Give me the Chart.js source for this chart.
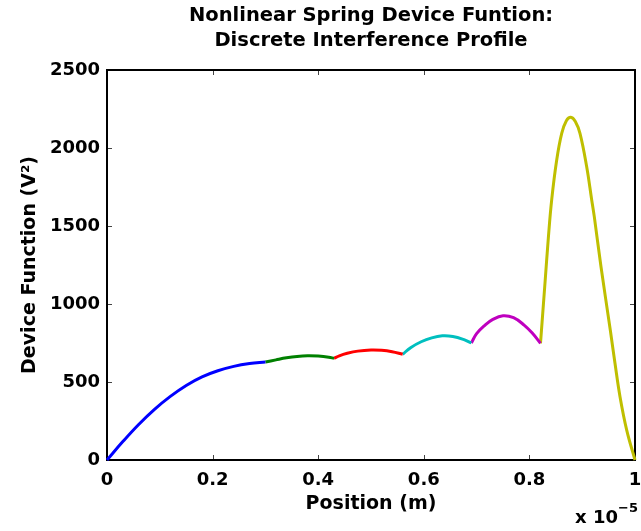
<!DOCTYPE html>
<html>
<head>
<meta charset="utf-8">
<title>Nonlinear Spring Device Funtion</title>
<script src="https://cdn.jsdelivr.net/npm/chart.js@4/dist/chart.umd.min.js"></script>
<style>
  html, body { margin: 0; padding: 0; background: #fff; }
  #wrap { width: 641px; height: 531px; }
</style>
</head>
<body>
<div id="wrap"><canvas id="chart" width="641" height="531"></canvas></div>
<script>
// position in units of 1e-5 m, device function in V^2
const blueX = [0, 0.03, 0.06, 0.09, 0.12, 0.15, 0.18, 0.21, 0.24, 0.27, 0.30];
const blueY = [0, 118, 228, 325, 408, 478, 533, 572, 600, 618, 628];
const greenX = [0.30, 0.32, 0.34, 0.36, 0.38, 0.40, 0.42, 0.43];
const greenY = [628, 642, 655, 664, 668, 666, 659, 652];
const redX = [0.43, 0.44, 0.455, 0.475, 0.50, 0.52, 0.54, 0.56];
const redY = [652, 668, 684, 698, 705, 703, 694, 678];
const cyanX = [0.56, 0.575, 0.595, 0.615, 0.635, 0.655, 0.675, 0.69];
const cyanY = [678, 720, 758, 783, 796, 792, 773, 750];
const magentaX = [0.69, 0.70, 0.715, 0.73, 0.75, 0.77, 0.79, 0.805, 0.821];
const magentaY = [750, 810, 862, 900, 925, 912, 865, 815, 748];
const yellowX = [0.821, 0.8295, 0.8358, 0.8422, 0.8517, 0.8612, 0.87, 0.8785, 0.887, 0.8958, 0.9085, 0.918,
    0.9229, 0.9356, 0.9532, 0.9621, 0.9716, 0.9843, 1.0];
const yellowY = [748, 1133, 1420, 1667, 1923, 2094, 2175, 2197, 2170, 2094, 1880, 1667,
    1560, 1239, 833, 620, 406, 192, 0];

const xTicks = [0, 0.2, 0.4, 0.6, 0.8, 1];
const yTicks = [0, 500, 1000, 1500, 2000, 2500];

const titleLines = ['Nonlinear Spring Device Funtion:', 'Discrete Interference Profile'];
const xLabel = 'Position (m)';
const yLabel = 'Device Function (V\u00B2)';

const FONT = "'DejaVu Sans', sans-serif";

function toPoints(xs, ys) {
    return xs.map((x, i) => ({ x: x, y: ys[i] }));
}

function segment(xs, ys, color) {
    return {
        data: toPoints(xs, ys),
        borderColor: color,
        borderWidth: 3,
        pointRadius: 0,
        fill: false,
        tension: 0.4,
        clip: false
    };
}

// box with inward ticks, drawn under the curves
const axesBox = {
    id: 'axesBox',
    beforeDatasetsDraw(chart) {
        const { ctx, chartArea: a, scales } = chart;
        ctx.save();
        ctx.strokeStyle = '#444';
        ctx.lineWidth = 1;
        ctx.beginPath();
        xTicks.forEach(v => {
            const px = Math.round(scales.x.getPixelForValue(v)) + 0.5;
            ctx.moveTo(px, a.bottom); ctx.lineTo(px, a.bottom - 5);
            ctx.moveTo(px, a.top); ctx.lineTo(px, a.top + 5);
        });
        yTicks.forEach(v => {
            const py = Math.round(scales.y.getPixelForValue(v)) + 0.5;
            ctx.moveTo(a.left, py); ctx.lineTo(a.left + 5, py);
            ctx.moveTo(a.right, py); ctx.lineTo(a.right - 5, py);
        });
        ctx.stroke();
        ctx.strokeStyle = '#000';
        ctx.lineWidth = 2;
        ctx.strokeRect(a.left, a.top, a.right - a.left, a.bottom - a.top);
        ctx.restore();
    },
    afterDraw(chart) {
        const { ctx, chartArea: a } = chart;
        const cx = (a.left + a.right) / 2;
        ctx.save();
        ctx.fillStyle = '#000';
        ctx.textAlign = 'center';
        ctx.textBaseline = 'alphabetic';
        ctx.font = 'bold 19.5px ' + FONT;
        ctx.fillText(titleLines[0], cx, 21);
        ctx.fillText(titleLines[1], cx, 46);

        // exponent of the x axis
        ctx.textAlign = 'left';
        ctx.font = 'bold 18px ' + FONT;
        ctx.fillText('x 10', 575, 523);
        ctx.font = 'bold 13px ' + FONT;
        ctx.fillText('\u22125', 618, 512);
        ctx.restore();
    }
};

new Chart(document.getElementById('chart'), {
    type: 'line',
    data: {
        datasets: [
            segment(blueX, blueY, '#0000ff'),
            segment(greenX, greenY, '#008000'),
            segment(redX, redY, '#ff0000'),
            segment(cyanX, cyanY, '#00bfbf'),
            segment(magentaX, magentaY, '#bf00bf'),
            segment(yellowX, yellowY, '#bfbf00')
        ]
    },
    options: {
        responsive: false,
        animation: false,
        devicePixelRatio: 1,
        layout: { padding: { top: 70, left: 0, right: 0, bottom: 0 } },
        plugins: {
            legend: { display: false },
            title: { display: false },
            tooltip: { enabled: false }
        },
        scales: {
            x: {
                type: 'linear',
                min: 0,
                max: 1,
                grid: { display: false, drawTicks: false },
                border: { display: false },
                afterBuildTicks: s => { s.ticks = xTicks.map(v => ({ value: v })); },
                afterFit: s => { s.height = 71; s.paddingLeft = 0; s.paddingRight = 6; },
                ticks: {
                    autoSkip: false,
                    maxRotation: 0,
                    padding: 10,
                    color: '#000',
                    font: { family: FONT, size: 18, weight: 'bold' },
                    callback: v => String(+v.toFixed(1))
                },
                title: {
                    display: true,
                    text: xLabel,
                    color: '#000',
                    font: { family: FONT, size: 19, weight: 'bold' },
                    padding: { top: 0, bottom: 16 }
                }
            },
            y: {
                type: 'linear',
                min: 0,
                max: 2500,
                grid: { display: false, drawTicks: false },
                border: { display: false },
                afterBuildTicks: s => { s.ticks = yTicks.map(v => ({ value: v })); },
                afterFit: s => { s.width = 107; s.paddingTop = 0; s.paddingBottom = 0; },
                ticks: {
                    autoSkip: false,
                    padding: 7,
                    color: '#000',
                    font: { family: FONT, size: 18, weight: 'bold' },
                    callback: v => String(v)
                },
                title: {
                    display: true,
                    text: yLabel,
                    color: '#000',
                    font: { family: FONT, size: 19, weight: 'bold' },
                    padding: { top: 19, bottom: 0 }
                }
            }
        }
    },
    plugins: [axesBox]
});
</script>
</body>
</html>
